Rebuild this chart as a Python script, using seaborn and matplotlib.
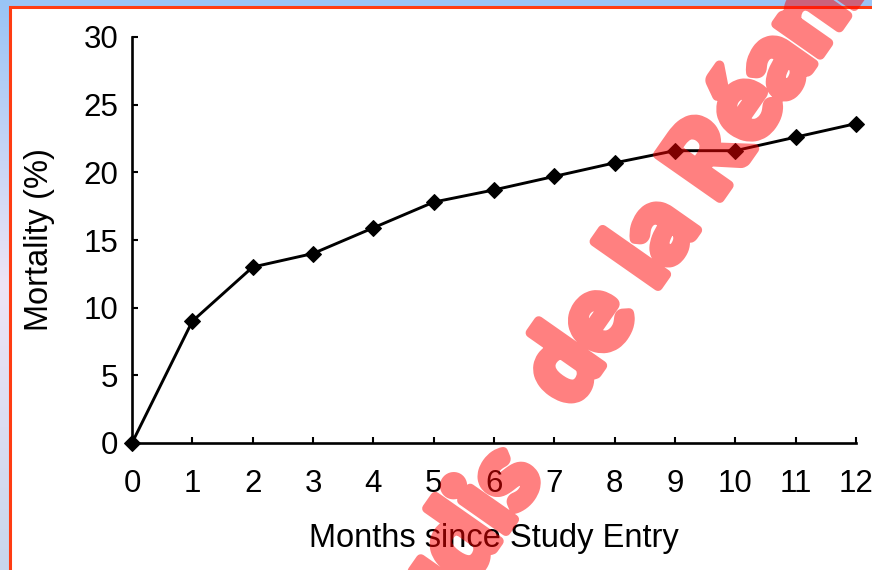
import numpy as np
import matplotlib
matplotlib.use("Agg")
import matplotlib.pyplot as plt
import matplotlib.patheffects as pe
from matplotlib.patches import Rectangle
import seaborn as sns

# values
months = list(range(13))
mortality = [0, 9.0, 13.0, 14.0, 15.9, 17.8, 18.7, 19.7, 20.7, 21.6, 21.6, 22.6, 23.6]
x_ticks = list(range(13))
y_ticks = [0, 5, 10, 15, 20, 25, 30]
x_label = "Months since Study Entry"
y_label = "Mortality (%)"
watermark_words = ["Jeudis", "de", "la", "Réanimation"]

sns.set_theme(style="ticks")
plt.rcParams['font.family'] = ['Liberation Sans', 'DejaVu Sans']

W, H = 872, 570
fig = plt.figure(figsize=(W / 100, H / 100), dpi=100)

# slide background: soft vertical gradient + white panel with red frame
bg = fig.add_axes([0, 0, 1, 1], zorder=-10)
stops = np.array([[153, 196, 245], [238, 228, 246], [200, 214, 236]]) / 255.0
t = np.linspace(0, 1, H)
grad = np.stack([np.interp(t, [0, 0.5, 1], stops[:, c]) for c in range(3)], axis=-1)
bg.imshow(grad[:, None, :], aspect='auto', extent=[0, W, H, 0])
bg.add_patch(Rectangle((10, 6.5), W + 20, H + 20, facecolor='white',
                       edgecolor='#ff3c12', linewidth=2.2))
bg.set_xlim(0, W)
bg.set_ylim(H, 0)
bg.axis('off')

# the chart itself
ax = fig.add_axes([132 / W, 1 - 443 / H, (856 - 132) / W, (443 - 37) / H])
ax.set_facecolor('none')
sns.lineplot(x=months, y=mortality, ax=ax, color='black', linewidth=2.1,
             marker='D', markersize=8.5, markeredgecolor='black', clip_on=False)
ax.set_xlim(0, 12)
ax.set_ylim(0, 30)
ax.set_xticks(x_ticks)
ax.set_yticks(y_ticks)
sns.despine(ax=ax)
for side in ['left', 'bottom']:
    ax.spines[side].set_linewidth(1.9)
    ax.spines[side].set_color('black')
ax.tick_params(direction='in', length=4, width=1.5, colors='black', labelsize=22.5)
ax.tick_params(axis='x', pad=19)
ax.tick_params(axis='y', pad=10)
ax.set_xlabel(x_label, fontsize=23.5, color='black', labelpad=17)
ax.set_ylabel(y_label, fontsize=23.5, color='black', labelpad=20)


# translucent red watermark running diagonally across the slide
def half_alpha(img, dpi):
    img = img.copy()
    img[..., 3] *= 0.5
    return img, 0, 0


wm_pos = [(0.6240, 0.1639, 'right'), (0.6935, 0.3646, 'center'),
          (0.7768, 0.5465, 'center'), (0.8203, 0.6412, 'left')]
for word, (wx, wy, align) in zip(watermark_words, wm_pos):
    wm = fig.text(wx, wy, word, rotation=55, rotation_mode='anchor',
                  ha=align, va='baseline', fontsize=75, fontweight='black',
                  family='Lato', color='red', zorder=20,
                  path_effects=[pe.Stroke(linewidth=7, foreground='red',
                                          joinstyle='round', capstyle='round'),
                                pe.Normal()])
    wm.set_agg_filter(half_alpha)

fig.savefig("out.png", dpi=100)
